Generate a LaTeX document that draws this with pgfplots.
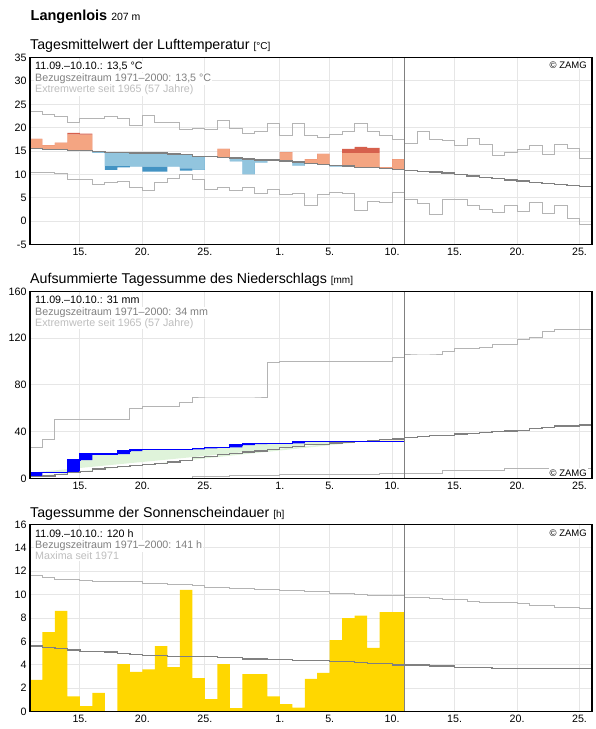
\documentclass[border=0pt]{standalone}
\usepackage{pgfplots}
\pgfplotsset{compat=1.18}
\usepackage{pgfplotstable}
\usepgfplotslibrary{fillbetween}
\usepackage{fontspec}
\setmainfont{Liberation Sans}

\definecolor{gridgray}{HTML}{E6E6E6}
\definecolor{extgray}{HTML}{B4B4B4}
\definecolor{normgray}{HTML}{808080}
\definecolor{warmlight}{HTML}{F4A582}
\definecolor{warmdark}{HTML}{D6604D}
\definecolor{coldlight}{HTML}{92C5DE}
\definecolor{colddark}{HTML}{4393C3}
\definecolor{rainblue}{HTML}{0000FF}
\definecolor{wetgreen}{HTML}{DFF3DA}
\definecolor{dryyellow}{HTML}{FFF8C6}
\definecolor{sungold}{HTML}{FFD700}
\definecolor{txtgray}{HTML}{808080}
\definecolor{txtlight}{HTML}{BEBEBE}

% day index d: 0 = 11.09., 30 = 11.10. (end of the observed period)
% temperature: normal N, warm knee/top (WK/WT), cold knee/bottom (CK/CT)
\pgfplotstableread{
d  N     WK    WT    CK    CT
0  15.6  17.6  17.6  15.6  15.6
1  15.4  16.3  16.3  15.4  15.4
2  15.4  16.8  16.8  15.4  15.4
3  15.2  18.6  18.9  15.2  15.2
4  15.2  18.5  18.75 15.2  15.2
5  14.9  14.9  14.9  14.6  14.6
6  14.75 14.75 14.75 11.8  11.0
7  14.75 14.75 14.75 11.8  11.5
8  14.6  14.6  14.6  11.7  11.7
9  14.6  14.6  14.6  11.7  10.6
10 14.6  14.6  14.6  11.7  10.6
11 14.4  14.4  14.4  11.7  11.7
12 14.2  14.2  14.2  11.3  10.8
13 13.9  13.9  13.9  11.0  11.0
14 13.9  13.9  13.9  13.9  13.9
15 13.7  15.5  15.5  13.7  13.7
16 13.5  13.5  13.5  12.8  12.8
17 13.3  13.3  13.3  10.1  10.1
18 13.1  13.1  13.1  12.55 12.55
19 13.1  13.1  13.1  13.1  13.1
20 12.9  14.8  14.8  12.9  12.9
21 12.7  12.7  12.7  11.9  11.9
22 12.4  13.3  13.3  12.4  12.4
23 12.2  14.4  14.4  12.2  12.2
24 11.9  11.9  11.9  11.7  11.7
25 11.8  14.6  15.5  11.8  11.8
26 11.56 14.6  15.9  11.56 11.56
27 11.56 14.6  15.7  11.56 11.56
28 11.35 11.6  11.6  11.35 11.35
29 11.1  13.3  13.3  11.1  11.1
30 11.1  13.3  13.3  11.1  11.1
}\tfill

% temperature: normal N, extreme maximum X, extreme minimum M
\pgfplotstableread{
d  N     X     M
0  15.6  23.5  10.5
1  15.4  22.9  10.5
2  15.4  22.3  10.3
3  15.2  21.2  9.0
4  15.2  22.0  9.0
5  14.9  22.0  7.9
6  14.75 22.3  8.3
7  14.75 22.0  8.6
8  14.6  20.4  7.3
9  14.6  22.6  6.6
10 14.6  21.1  8.3
11 14.4  21.1  9.2
12 14.2  19.7  10.1
13 13.9  19.9  9.0
14 13.9  19.7  6.85
15 13.7  21.5  7.3
16 13.5  19.9  6.6
17 13.3  18.7  7.3
18 13.1  19.3  6.0
19 13.1  20.8  6.85
20 12.9  18.4  5.8
21 12.7  20.8  6.0
22 12.4  18.3  3.3
23 12.2  18.0  5.8
24 11.9  18.5  6.2
25 11.8  19.2  6.0
26 11.56 21.0  2.3
27 11.56 19.2  4.2
28 11.35 18.3  4.0
29 11.1  17.4  6.2
30 10.8  16.7  4.7
31 10.65 19.1  3.85
32 10.5  17.4  1.5
33 10.3  17.2  4.7
34 10.0  16.3  4.7
35 9.7   17.6  3.3
36 9.4   16.5  2.6
37 9.1   14.1  1.9
38 8.85  14.8  3.4
39 8.6   15.3  2.05
40 8.35  16.1  4.1
41 8.1   14.3  1.7
42 7.9   16.5  3.4
43 7.7   15.6  0.6
44 7.5   13.5  -0.8
45 7.5   13.5  -0.8
}\tline

% precipitation (cumulative): normal N, observed O, previous day's total P
\pgfplotstableread{
d  N     O     P
0  1.4   4.8   2.0
1  2.0   4.8   4.8
2  3.4   4.8   4.8
3  5.1   15.7  4.8
4  6.2   20.8  15.7
5  8.0   20.8  20.8
6  9.1   20.8  20.8
7  10.0  23.4  20.8
8  10.8  24.8  23.4
9  12.0  24.8  24.8
10 13.0  24.8  24.8
11 14.0  24.8  24.8
12 15.6  24.8  24.8
13 17.6  25.7  24.8
14 19.0  26.6  25.7
15 20.3  26.6  26.6
16 21.5  28.5  26.6
17 22.5  29.4  28.5
18 23.5  30.0  29.4
19 24.8  30.0  30.0
20 26.3  30.0  30.0
21 27.5  31.3  30.0
22 28.8  31.3  31.3
23 29.2  31.3  31.3
24 30.3  31.3  31.3
25 30.6  31.3  31.3
26 31.6  31.3  31.3
27 31.9  31.3  31.3
28 33.0  31.3  31.3
29 33.8  31.3  31.3
30 33.8  31.3  31.3
}\pfill

% precipitation (cumulative): normal N, extreme maximum X, extreme minimum M
\pgfplotstableread{
d  N     X      M
0  1.4   26.5   0
1  2.0   33.4   0
2  3.4   50.5   0
3  5.1   50.5   0
4  6.2   50.5   0
5  8.0   50.5   0
6  9.1   50.5   0
7  10.0  50.5   0
8  10.8  60.0   0
9  12.0  61.9   0
10 13.0  61.9   0
11 14.0  61.9   0
12 15.6  65.1   0
13 17.6  68.8   1.4
14 19.0  68.8   1.4
15 20.3  68.8   1.4
16 21.5  68.8   2.4
17 22.5  68.8   2.4
18 23.5  68.8   2.4
19 24.8  99.4   2.4
20 26.3  100.4  3.3
21 27.5  100.4  3.3
22 28.8  100.4  3.3
23 29.2  100.4  3.3
24 30.3  100.4  3.3
25 30.6  100.4  3.3
26 31.6  100.4  3.3
27 31.9  100.4  3.3
28 33.0  100.4  4.6
29 33.8  103.6  4.6
30 34.8  105.6  4.6
31 35.7  105.6  4.6
32 36.8  105.6  4.6
33 36.8  108.2  7.0
34 37.9  111.3  7.0
35 38.5  111.3  7.0
36 39.1  112.2  7.0
37 39.9  114.2  7.0
38 40.5  114.2  8.5
39 41.1  118.5  8.5
40 42.5  120.7  8.5
41 43.4  125.3  8.5
42 44.8  127.0  8.5
43 44.8  127.0  8.5
44 45.7  127.0  8.5
45 45.7  127.0  8.5
}\pline

% daily sunshine duration in hours
\pgfplotstableread{
d  S
0  2.7
1  6.8
2  8.6
3  1.3
4  0.45
5  1.6
6  0
7  4.05
8  3.4
9  3.6
10 5.6
11 3.8
12 10.4
13 2.85
14 1.05
15 4.05
16 0.28
17 3.2
18 3.2
19 1.3
20 0.63
21 0.34
22 2.8
23 3.3
24 6.1
25 8.0
26 8.2
27 5.45
28 8.5
29 8.5
30 8.5
}\sbar

% sunshine: normal N and maximum X
\pgfplotstableread{
d  N     X
0  5.6   11.6
1  5.5   11.5
2  5.4   11.3
3  5.25  11.3
4  5.15  11.25
5  5.15  11.15
6  5.1   11.15
7  4.95  11.1
8  4.9   11.1
9  4.8   10.95
10 4.8   10.95
11 4.7   10.85
12 4.7   10.85
13 4.7   10.75
14 4.7   10.6
15 4.6   10.6
16 4.6   10.5
17 4.5   10.5
18 4.5   10.45
19 4.45  10.45
20 4.45  10.35
21 4.37  10.35
22 4.37  10.3
23 4.37  10.3
24 4.3   10.1
25 4.3   10.1
26 4.2   10.0
27 4.1   9.95
28 4.1   9.95
29 3.97  9.9
30 3.97  9.75
31 3.97  9.75
32 3.9   9.65
33 3.9   9.55
34 3.77  9.55
35 3.77  9.45
36 3.77  9.3
37 3.7   9.3
38 3.7   9.3
39 3.7   9.2
40 3.7   9.1
41 3.7   9.1
42 3.7   8.9
43 3.7   8.9
44 3.7   8.8
45 3.7   8.8
}\sline

\pgfplotsset{
  panel/.style={
    anchor=north west, scale only axis,
    width=562pt, height=187pt,
    xmin=0, xmax=45,
    axis line style={black, line width=1.2pt},
    grid=major,
    major grid style={gridgray, line width=1pt},
    major tick length=0pt,
    xtick={4,9,14,20,24,29,34,39,44},
    xticklabels={15.,20.,25.,1.,5.,10.,15.,20.,25.},
    tick label style={font=\fontsize{10.7}{12}\selectfont},
    /pgf/number format/assume math mode=true,
  },
  extline/.style={const plot, extgray, line width=1pt, no marks},
  normline/.style={const plot, normgray, line width=1.3pt, no marks},
  ghost/.style={const plot, draw=none, no marks},
  endline/.style={normgray, line width=1.1pt, no marks},
}
\tikzset{
  info/.style={anchor=base west, fill=white, inner sep=1pt, font=\fontsize{10.7}{12}\selectfont},
  zamg/.style={anchor=base east, fill=white, inner sep=1pt, font=\fontsize{9.5}{11}\selectfont},
}

\begin{document}
\begin{tikzpicture}

% ---------------- air temperature ----------------
\begin{axis}[panel, name=p1, at={(30pt,-57.6pt)}, ymin=-5, ymax=35, ytick={-5,0,...,35}]
  \addplot[ghost, name path=tN]  table[x=d,y=N]  {\tfill};
  \addplot[ghost, name path=tWK] table[x=d,y=WK] {\tfill};
  \addplot[ghost, name path=tWT] table[x=d,y=WT] {\tfill};
  \addplot[ghost, name path=tCK] table[x=d,y=CK] {\tfill};
  \addplot[ghost, name path=tCT] table[x=d,y=CT] {\tfill};
  \addplot[fill=warmlight, draw=none] fill between[of=tN and tWK];
  \addplot[fill=warmdark,  draw=none] fill between[of=tWK and tWT];
  \addplot[fill=coldlight, draw=none] fill between[of=tN and tCK];
  \addplot[fill=colddark,  draw=none] fill between[of=tCK and tCT];
  \addplot[extline] table[x=d,y=X] {\tline};
  \addplot[extline] table[x=d,y=M] {\tline};
  \addplot[normline] table[x=d,y=N] {\tline};
  \addplot[endline] coordinates {(30,-5) (30,35)};
  \path (rel axis cs:0,1) node[info, xshift=4pt, yshift=-12.2pt] {11.09.–10.10.: 13,5 °C};
  \path (rel axis cs:0,1) node[info, xshift=4pt, yshift=-23.7pt, text=txtgray] {Bezugszeitraum 1971–2000: 13,5 °C};
  \path (rel axis cs:0,1) node[info, xshift=4pt, yshift=-35.1pt, text=txtlight] {Extremwerte seit 1965 (57 Jahre)};
  \path (rel axis cs:1,1) node[zamg, xshift=-4pt, yshift=-10.8pt] {© ZAMG};
\end{axis}
\draw[black, line width=1.2pt] (p1.south west) rectangle (p1.north east);

% ---------------- precipitation ----------------
\begin{axis}[panel, name=p2, at={(30pt,-291.4pt)}, ymin=0, ymax=160, ytick={0,40,...,160}]
  \addplot[ghost, name path=pN] table[x=d,y=N] {\pfill};
  \addplot[ghost, name path=pO] table[x=d,y=O] {\pfill};
  \addplot[ghost, name path=pP] table[x=d,y=P] {\pfill};
  \addplot[fill=wetgreen,  draw=none] fill between[of=pO and pN, soft clip={domain=0:26}];
  \addplot[fill=dryyellow, draw=none] fill between[of=pO and pN, soft clip={domain=26:30}];
  \addplot[fill=rainblue,  draw=none] fill between[of=pO and pP];
  \addplot[extline] table[x=d,y=X] {\pline};
  \addplot[extline] table[x=d,y=M] {\pline};
  \addplot[normline] table[x=d,y=N] {\pline};
  \addplot[const plot, rainblue, line width=1.2pt, no marks] table[x=d,y=O] {\pfill};
  \addplot[endline] coordinates {(30,0) (30,160)};
  \path (rel axis cs:0,1) node[info, xshift=4pt, yshift=-12.3pt] {11.09.–10.10.: 31 mm};
  \path (rel axis cs:0,1) node[info, xshift=4pt, yshift=-23.9pt, text=txtgray] {Bezugszeitraum 1971–2000: 34 mm};
  \path (rel axis cs:0,1) node[info, xshift=4pt, yshift=-34.8pt, text=txtlight] {Extremwerte seit 1965 (57 Jahre)};
  \path (rel axis cs:1,0) node[zamg, xshift=-4pt, yshift=2.4pt] {© ZAMG};
\end{axis}
\draw[black, line width=1.2pt] (p2.south west) rectangle (p2.north east);

% ---------------- sunshine duration ----------------
\begin{axis}[panel, name=p3, at={(30pt,-524.5pt)}, ymin=0, ymax=16, ytick={0,2,...,16}]
  \addplot[const plot, fill=sungold, draw=none] table[x=d,y=S] {\sbar} \closedcycle;
  \addplot[extline] table[x=d,y=X] {\sline};
  \addplot[normline] table[x=d,y=N] {\sline};
  \addplot[endline] coordinates {(30,0) (30,16)};
  \path (rel axis cs:0,1) node[info, xshift=4pt, yshift=-13.3pt] {11.09.–10.10.: 120 h};
  \path (rel axis cs:0,1) node[info, xshift=4pt, yshift=-24.2pt, text=txtgray] {Bezugszeitraum 1971–2000: 141 h};
  \path (rel axis cs:0,1) node[info, xshift=4pt, yshift=-35.2pt, text=txtlight] {Maxima seit 1971};
  \path (rel axis cs:1,1) node[zamg, xshift=-4pt, yshift=-12pt] {© ZAMG};
\end{axis}
\draw[black, line width=1.2pt] (p3.south west) rectangle (p3.north east);

% ---------------- titles ----------------
\node[anchor=base west, inner sep=0pt, font=\fontsize{14.5}{16}\selectfont\bfseries]
  at (30.5pt,-20pt) {Langenlois {\fontsize{10.5}{12}\selectfont\mdseries 207 m}};
\node[anchor=base west, inner sep=0pt, font=\fontsize{14.2}{16}\selectfont]
  at (30pt,-49pt) {Tagesmittelwert der Lufttemperatur {\fontsize{10}{12}\selectfont[°C]}};
\node[anchor=base west, inner sep=0pt, font=\fontsize{14.2}{16}\selectfont]
  at (30pt,-283.5pt) {Aufsummierte Tagessumme des Niederschlags {\fontsize{10}{12}\selectfont[mm]}};
\node[anchor=base west, inner sep=0pt, font=\fontsize{14.2}{16}\selectfont]
  at (30pt,-517.7pt) {Tagessumme der Sonnenscheindauer {\fontsize{10}{12}\selectfont[h]}};

% page area
\path (0,0) rectangle (596pt,-729pt);
\end{tikzpicture}
\end{document}
